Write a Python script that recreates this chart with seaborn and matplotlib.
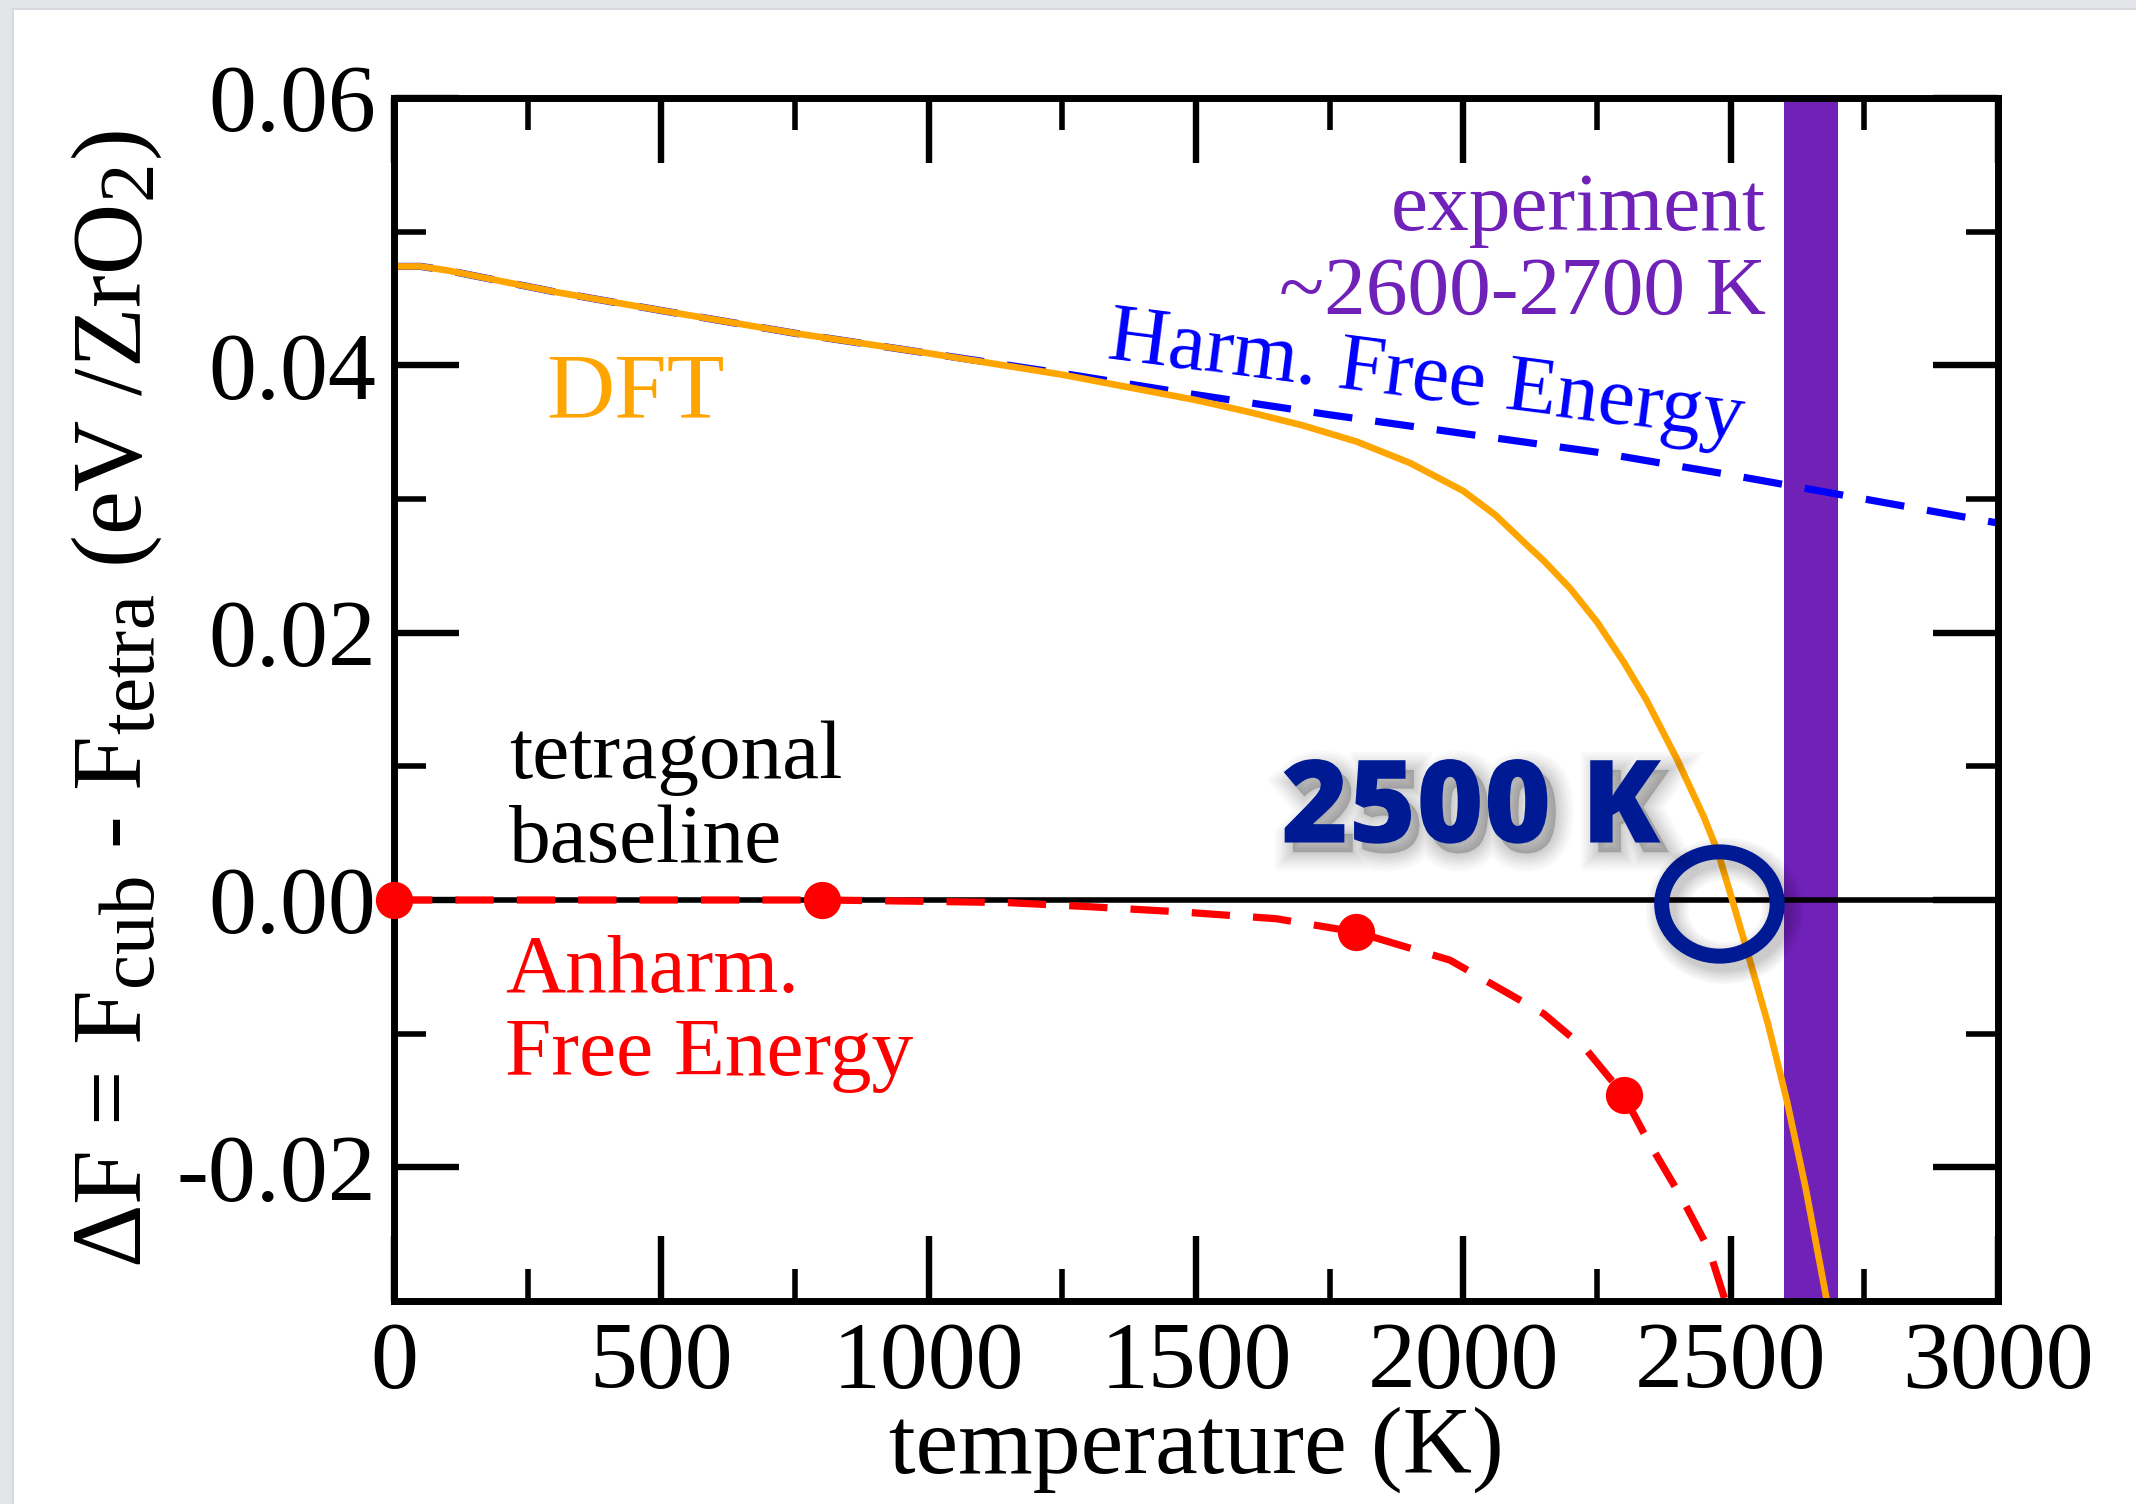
import numpy as np
import pandas as pd
import matplotlib
matplotlib.use("Agg")
import matplotlib.pyplot as plt
import matplotlib.patheffects as pe
import matplotlib._mathtext as _mathtext
from matplotlib.patches import Ellipse, Rectangle
from matplotlib.ticker import MultipleLocator, FixedLocator, FuncFormatter
import seaborn as sns

# Free-energy difference F_cub - F_tetra (eV / ZrO2) versus temperature (K)
dft_T = [0, 50, 100, 200, 300, 500, 750, 1000, 1250, 1500, 1600, 1700, 1800,
         1900, 2000, 2060, 2123, 2150, 2200, 2250, 2300, 2342, 2400, 2450,
         2476, 2503, 2530, 2570, 2605, 2640, 2680]
dft_dF = [0.0474, 0.0474, 0.0471, 0.0463, 0.0455, 0.0441, 0.0424, 0.0409,
          0.0393, 0.0374, 0.0365, 0.0355, 0.0343, 0.0327, 0.0306, 0.0288,
          0.0264, 0.0254, 0.0233, 0.0208, 0.0178, 0.0150, 0.0105, 0.0062,
          0.0036, 0.0000, -0.0037, -0.0093, -0.0150, -0.0215, -0.0300]

harm_T = [0, 50, 100, 200, 300, 500, 750, 1000, 1250, 1500, 1750, 2000,
          2250, 2500, 2750, 3000]
harm_dF = [0.0474, 0.0474, 0.0471, 0.0463, 0.0455, 0.0441, 0.0424, 0.0409,
           0.0394, 0.0378, 0.0363, 0.0349, 0.0335, 0.0318, 0.0300, 0.0282]

anh_T = [0, 400, 800, 1000, 1150, 1300, 1475, 1650, 1800, 1975, 2150, 2230,
         2300, 2345, 2410, 2460, 2490]
anh_dF = [0.0, 0.0, 0.0, -0.0001, -0.0002, -0.0005, -0.0009, -0.0014, -0.0024,
          -0.0045, -0.0085, -0.0112, -0.0146, -0.0180, -0.0224, -0.0262, -0.0300]

anh_pts_T = [0, 800, 1800, 2300]
anh_pts_dF = [0.0, 0.0, -0.0024, -0.0146]

exp_range = [2600, 2700]
transition_T = 2479
transition_dF = -0.0003

x_ticks = [0, 500, 1000, 1500, 2000, 2500, 3000]
y_ticks = [-0.02, 0.00, 0.02, 0.04, 0.06]

ORANGE = "#ffa500"
BLUE = "#0000ff"
RED = "#ff0000"
PURPLE = "#7021b8"
NAVY = "#001a94"

sns.set_theme(style="ticks")
plt.rcParams["font.family"] = ["Liberation Serif", "DejaVu Serif"]
plt.rcParams["mathtext.fontset"] = "custom"
plt.rcParams["mathtext.rm"] = "Liberation Serif"
plt.rcParams["mathtext.it"] = "Liberation Serif:italic"
plt.rcParams["axes.unicode_minus"] = False
plt.rcParams["text.color"] = "black"
plt.rcParams["axes.labelcolor"] = "black"
# larger subscripts in the axis label
_mathtext.SHRINK_FACTOR = 0.8

W, H, DPI = 2136, 1504, 100
fig = plt.figure(figsize=(W / DPI, H / DPI), dpi=DPI, facecolor="#e2e4e8")

# white page panel with a thin grey frame on top and left
fig.patches.append(Rectangle((12 / W, 0), 1, 1 - 8 / H, transform=fig.transFigure,
                             facecolor="#d6d9dd", edgecolor="none", zorder=-2))
fig.patches.append(Rectangle((14 / W, 0), 1, 1 - 10 / H, transform=fig.transFigure,
                             facecolor="white", edgecolor="none", zorder=-1))

ax = fig.add_axes([394 / W, 1 - 1301 / H, (1998 - 394) / W, (1301 - 98) / H])
ax.set_facecolor("white")

# experimental transition window
ax.axvspan(exp_range[0], exp_range[1], color=PURPLE, lw=0, zorder=1)

# tetragonal reference
ax.axhline(0.0, color="black", linewidth=4.0, zorder=2)

harm = pd.DataFrame({"T": harm_T, "dF": harm_dF})
dft = pd.DataFrame({"T": dft_T, "dF": dft_dF})
anh = pd.DataFrame({"T": anh_T, "dF": anh_dF})
pts = pd.DataFrame({"T": anh_pts_T, "dF": anh_pts_dF})

sns.lineplot(data=harm, x="T", y="dF", color=BLUE, ax=ax, zorder=3)
harm_line = ax.lines[-1]
harm_line.set_linewidth(5.2)
harm_line.set_dashes((5.4, 3.2))

sns.lineplot(data=dft, x="T", y="dF", color=ORANGE, ax=ax, zorder=4)
ax.lines[-1].set_linewidth(4.8)

sns.lineplot(data=anh, x="T", y="dF", color=RED, ax=ax, zorder=4.5)
anh_line = ax.lines[-1]
anh_line.set_linewidth(5.2)
anh_line.set_dashes((5.3, 3.2))

sns.scatterplot(data=pts, x="T", y="dF", color=RED, s=720, linewidth=0,
                ax=ax, zorder=6, clip_on=False)

# highlighted crossing with a soft drop shadow
ring_shadow = [pe.SimpleLineShadow(offset=(4, -5), shadow_color="black",
                                   alpha=0.035, rho=1.0, linewidth=w)
               for w in (30, 26, 22, 18, 15, 12)]
ring = Ellipse((transition_T, transition_dF), width=216, height=0.0078,
               fill=False, edgecolor=NAVY, linewidth=10.8, zorder=7,
               path_effects=ring_shadow + [pe.Normal()])
ax.add_patch(ring)

text_shadow = [pe.PathPatchEffect(offset=(6, -7), facecolor="black",
                                  edgecolor="black", linewidth=w, alpha=0.025)
               for w in (26, 22, 18, 15, 12, 9, 6, 3, 1)]
ax.text(2368, 0.0043, "2500 K", color=NAVY, fontsize=83, fontweight="heavy",
        family=["Open Sans", "DejaVu Sans"], ha="right", va="baseline", zorder=8,
        path_effects=text_shadow + [pe.Normal()])

# curve annotations
ax.text(284, 0.0361, "DFT", color=ORANGE, fontsize=68, ha="left", va="baseline")
ax.text(215, 0.00913, "tetragonal", color="black", fontsize=60, ha="left", va="baseline")
ax.text(215, 0.00287, "baseline", color="black", fontsize=60, ha="left", va="baseline")
ax.text(208, -0.00686, "Anharm.", color=RED, fontsize=60, ha="left", va="baseline")
ax.text(208, -0.01309, "Free Energy", color=RED, fontsize=60, ha="left", va="baseline")
ax.text(2566, 0.05012, "experiment", color=PURPLE, fontsize=60, ha="right", va="baseline")
ax.text(2566, 0.04389, "~2600-2700 K", color=PURPLE, fontsize=60, ha="right", va="baseline")
ax.text(1333, 0.04053, "Harm. Free Energy", color=BLUE, fontsize=60, rotation=-7.3,
        rotation_mode="anchor", ha="left", va="baseline")

# axes, ticks and labels
ax.set_xlim(0, 3000)
ax.set_ylim(-0.03, 0.06)
ax.xaxis.set_major_locator(FixedLocator(x_ticks))
ax.xaxis.set_minor_locator(MultipleLocator(250))
ax.yaxis.set_major_locator(FixedLocator(y_ticks))
ax.yaxis.set_minor_locator(MultipleLocator(0.01))
ax.yaxis.set_major_formatter(FuncFormatter(lambda v, p: f"{v:.2f}".replace("-0.00", "0.00")))
ax.xaxis.set_major_formatter(FuncFormatter(lambda v, p: f"{v:.0f}"))

ax.tick_params(which="both", direction="in", top=True, right=True,
               colors="black", labelcolor="black")
ax.tick_params(which="major", length=47, width=4.6, labelsize=69)
ax.tick_params(which="minor", length=23, width=4.0)
ax.tick_params(axis="x", which="major", pad=15)
ax.tick_params(axis="y", which="major", pad=13)
for s in ax.spines.values():
    s.set_visible(True)
    s.set_linewidth(5.0)
    s.set_color("black")
    s.set_zorder(5)

ax.set_xlabel("temperature (K)", fontsize=69, color="black")
ax.set_ylabel("ΔF = F$_{\\mathrm{cub}}$ - F$_{\\mathrm{tetra}}$ (eV /ZrO$_{2}$)",
              fontsize=71, color="black")
ax.xaxis.set_label_coords(0.5, -0.088)
ax.yaxis.set_label_coords(-0.1434, 0.5)

fig.savefig("out.png", dpi=DPI, facecolor=fig.get_facecolor())
